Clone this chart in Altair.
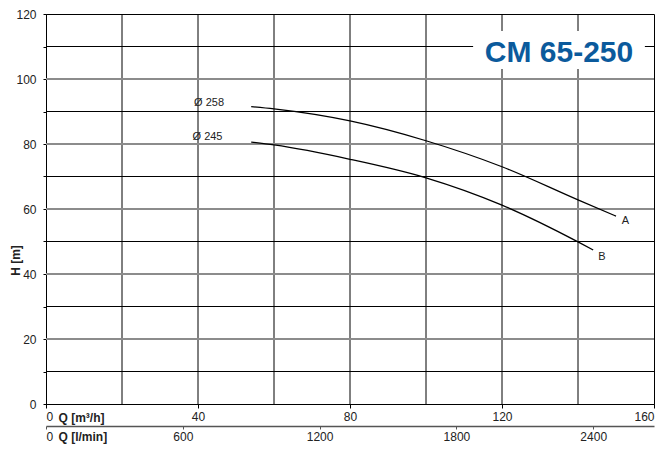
import altair as alt
import pandas as pd

# ---- data ----
q_a = [54, 60, 80, 100, 120, 140, 150]
h_a = [91.5, 90.8, 87.1, 81.0, 73.0, 62.8, 57.8]
q_b = [54, 60, 80, 100, 120, 140, 144]
h_b = [80.6, 79.7, 75.3, 69.6, 61.2, 49.9, 47.4]

grid_x = [20, 40, 60, 80, 100, 120, 140]
grid_y_minor = [10, 30, 50, 70, 90, 110]
grid_y_major = [20, 40, 60, 80, 100]

x_ticks = [0, 40, 80, 120, 160]
y_ticks = list(range(0, 121, 10))
lmin_ticks = [0, 600, 1200, 1800, 2400]
lmin_max = 160 * 1000 / 60  # 160 m3/h in l/min

curve_labels = ["Ø 258", "Ø 245", "A", "B"]
label_q = [42.9, 42.5, 152.5, 146.3]
label_h = [92.6, 82.2, 56.4, 45.2]

title_text = "CM 65-250"

FONT = "Liberation Sans"

df_a = pd.DataFrame({"Q": q_a, "H": h_a, "curve": "A"})
df_b = pd.DataFrame({"Q": q_b, "H": h_b, "curve": "B"})
df_curves = pd.concat([df_a, df_b])

x_scale = alt.Scale(domain=[0, 160], nice=False, zero=False)
y_scale = alt.Scale(domain=[0, 120], nice=False, zero=False)

x_axis = alt.Axis(
    values=x_ticks, grid=False, tickSize=4, tickColor="black", domainColor="black",
    format="d",
    labelFont=FONT, labelFontSize=12, labelColor="#222", labelPadding=3,
    title="Q [m³/h]", titleFont=FONT, titleFontSize=12, titleFontWeight="bold",
    titleColor="#222", titleX=12, titleY=13, titleAlign="left", titleBaseline="middle",
    titleAngle=0,
)
y_axis = alt.Axis(
    values=y_ticks, grid=False, tickSize=3, tickColor="black", domainColor="black",
    labelExpr="datum.value % 20 == 0 ? datum.label : ''",
    format="d",
    labelFont=FONT, labelFontSize=12, labelColor="#222", labelPadding=7,
    title="H [m]", titleFont=FONT, titleFontSize=12, titleFontWeight="bold",
    titleColor="#222", titleX=-31, titleY=246, titleAngle=270, titleAlign="center",
    titleBaseline="middle",
)


def X():
    return alt.X("Q:Q", scale=x_scale, axis=x_axis)


def Y():
    return alt.Y("H:Q", scale=y_scale, axis=y_axis)


vgrid = alt.Chart(pd.DataFrame({"Q": grid_x})).mark_rule(color="black", strokeWidth=1).encode(x=X())
hgrid_minor = alt.Chart(pd.DataFrame({"H": grid_y_minor})).mark_rule(color="black", strokeWidth=1).encode(y=Y())
hgrid_major = alt.Chart(pd.DataFrame({"H": grid_y_major})).mark_rule(color="#8c8c8c", strokeWidth=1.8).encode(y=Y())

title_box = alt.Chart(pd.DataFrame({"Q": [112.4], "Q2": [157.6], "H": [103.1], "H2": [114.8]})).mark_rect(
    color="white"
).encode(x=X(), x2="Q2:Q", y=Y(), y2="H2:Q")

title = alt.Chart(pd.DataFrame({"Q": [135], "H": [105.3], "t": [title_text]})).mark_text(
    font=FONT, fontSize=30, fontWeight="bold", color="#0b5a9c", align="center", baseline="alphabetic"
).encode(x=X(), y=Y(), text="t:N")

curves = alt.Chart(df_curves).mark_line(color="black", strokeWidth=1.3, interpolate="monotone").encode(
    x=X(), y=Y(), detail="curve:N",
)

labels = alt.Chart(pd.DataFrame({"Q": label_q, "H": label_h, "t": curve_labels})).mark_text(
    font=FONT, fontSize=11, color="#222", align="center", baseline="middle"
).encode(x=X(), y=Y(), text="t:N")

main = alt.layer(vgrid, hgrid_minor, hgrid_major, title_box, title, curves, labels)

# second flow axis, l/min
lmin_axis = alt.Axis(
    orient="bottom", offset=22, values=lmin_ticks, grid=False, tickSize=3,
    format="d",
    tickColor="#555", domainColor="#555", domainWidth=1.3,
    labelFont=FONT, labelFontSize=12, labelColor="#222", labelPadding=2,
    title="Q [l/min]", titleFont=FONT, titleFontSize=12, titleFontWeight="bold",
    titleColor="#222", titleX=12, titleY=10, titleAlign="left", titleBaseline="middle",
    titleAngle=0,
)
lmin = alt.Chart(pd.DataFrame({"L": [0, lmin_max], "H": [0, 0]})).mark_point(opacity=0).encode(
    x=alt.X("L:Q", scale=alt.Scale(domain=[0, lmin_max], nice=False, zero=False), axis=lmin_axis),
    y=Y(),
)

chart = alt.layer(main, lmin).resolve_scale(x="independent").properties(
    width=608, height=390,
    autosize=alt.AutoSizeParams(type="none"),
    padding={"left": 38, "top": 6, "right": 8, "bottom": 40},
    background="white",
).configure_view(stroke="black", strokeWidth=1)

chart.save("out.html", embed_options={"renderer": "svg", "actions": False})
